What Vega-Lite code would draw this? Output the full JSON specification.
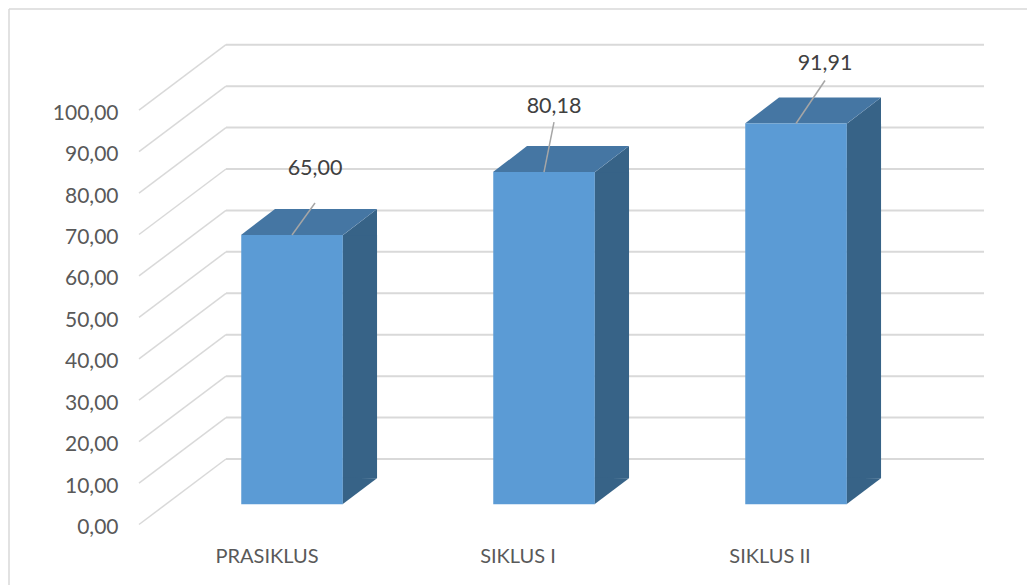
{
"$schema":"https://vega.github.io/schema/vega-lite/v6.json",
"width":1027,"height":585,"padding":0,"autosize":{"type":"none"},
"background":"white",
"config":{"view":{"stroke":null},"text":{"font":"Lato"}},
"datasets":{
"bars":[{"siklus":"PRASIKLUS","nilai":65.00,"teks":"65,00"},{"siklus":"SIKLUS I","nilai":80.18,"teks":"80,18"},{"siklus":"SIKLUS II","nilai":91.91,"teks":"91,91"}],
"ticks":[{"t":0},{"t":10},{"t":20},{"t":30},{"t":40},{"t":50},{"t":60},{"t":70},{"t":80},{"t":90},{"t":100}]
},
"resolve":{"scale":{"x":"independent"}},
"layer":[
{"data":{"values":[{"a":1}]},"mark":{"type":"rule","color":"#d9d9d9","strokeWidth":1.5},
 "encoding":{"x":{"datum":0,"type":"quantitative","scale":{"domain":[0,1],"range":[9,1027]},"axis":null},"x2":{"datum":1},
 "y":{"datum":124.4,"type":"quantitative","scale":{"domain":[-14.6,126.6],"nice":false,"zero":false},"axis":{"values":[0,10,20,30,40,50,60,70,80,90,100],"orient":"left","offset":-118,"domain":false,"ticks":false,"grid":false,"title":null,"labelPadding":0,"labelOffset":3,"labelFont":"Lato","labelFontSize":21,"labelColor":"#595959","labelAlign":"right","labelBaseline":"middle","labelOverlap":false,"labelExpr":"replace(format(datum.value,'.2f'),'.',',')"}}}},
{"data":{"values":[{"a":1}]},"mark":{"type":"rule","color":"#d9d9d9","strokeWidth":1.5},
 "encoding":{"x":{"datum":0,"type":"quantitative","scale":{"domain":[0,1],"range":[9,10]},"axis":null},
 "y":{"datum":124.4,"type":"quantitative"},"y2":{"datum":-14.6}}},
{"data":{"name":"ticks"},"mark":{"type":"rule","color":"#d9d9d9","strokeWidth":2,"yOffset":-65.5,"y2Offset":-65.5},
 "encoding":{"x":{"datum":0,"type":"quantitative","scale":{"domain":[0,1],"range":[226,984]},"axis":null},"x2":{"datum":1},
 "y":{"field":"t","type":"quantitative"}}},
{"data":{"name":"ticks"},"mark":{"type":"rule","color":"#d9d9d9","strokeWidth":1.5,"y2Offset":-65.5},
 "encoding":{"x":{"datum":0,"type":"quantitative","scale":{"domain":[0,1],"range":[139,226]},"axis":null},"x2":{"datum":1},
 "y":{"field":"t","type":"quantitative"},"y2":{"field":"t"}}},
{"data":{"name":"bars"},
 "encoding":{"x":{"field":"siklus","type":"nominal","scale":{"type":"band","domain":["PRASIKLUS","SIKLUS I","SIKLUS II"],"range":[166,922],"paddingInner":0,"paddingOuter":0},"axis":null}},
 "layer":[
  {"mark":{"type":"bar","color":"#376387","size":34.5,"xOffset":67.8,"yOffset":-20.2,"y2Offset":-46.2},
   "encoding":{"y":{"field":"nilai","type":"quantitative"},"y2":{"datum":0}}},
  {"mark":{"type":"point","filled":true,"opacity":1,"color":"#376387","size":4,"strokeWidth":0,"yOffset":-20.2,"shape":"M50.5,0.5L85,-26L85,0.5Z"},
   "encoding":{"y":{"field":"nilai","type":"quantitative"}}},
  {"mark":{"type":"point","filled":true,"opacity":1,"color":"#376387","size":4,"strokeWidth":0,"yOffset":-20.2,"shape":"M50.5,0L85,-26L50.5,-26.5Z"},
   "encoding":{"y":{"datum":0,"type":"quantitative"}}},
  {"mark":{"type":"point","filled":true,"opacity":1,"color":"#4576a3","size":4,"strokeWidth":0,"yOffset":-20.2,"shape":"M-51,0L-17,-26L85,-26L51,0Z"},
   "encoding":{"y":{"field":"nilai","type":"quantitative"}}},
  {"mark":{"type":"bar","color":"#5b9bd5","size":101.5,"yOffset":-20.2,"y2Offset":-20.2},
   "encoding":{"y":{"field":"nilai","type":"quantitative"},"y2":{"datum":0}}}
 ]},
{"data":{"name":"bars"},"transform":[{"filter":"datum.siklus=='PRASIKLUS'"}],
 "encoding":{"x":{"field":"siklus","type":"nominal","scale":{"type":"band","domain":["PRASIKLUS","SIKLUS I","SIKLUS II"],"range":[166,922],"paddingInner":0,"paddingOuter":0},"axis":null}},
 "layer":[
  {"mark":{"type":"rule","color":"#a6a6a6","strokeWidth":1.5,"yOffset":-20.2,"y2Offset":-52.2,"x2Offset":23},
   "encoding":{"x2":{"field":"siklus"},"y":{"field":"nilai","type":"quantitative"},"y2":{"field":"nilai"}}},
  {"mark":{"type":"text","fontSize":21.5,"color":"#404040","dx":23,"dy":-86},
   "encoding":{"y":{"field":"nilai","type":"quantitative"},"text":{"field":"teks"}}},
  {"mark":{"type":"text","fontSize":20,"color":"#595959","dx":-25,"dy":32},
   "encoding":{"y":{"datum":0,"type":"quantitative"},"text":{"field":"siklus"}}}
 ]},
{"data":{"name":"bars"},"transform":[{"filter":"datum.siklus=='SIKLUS I'"}],
 "encoding":{"x":{"field":"siklus","type":"nominal","scale":{"type":"band","domain":["PRASIKLUS","SIKLUS I","SIKLUS II"],"range":[166,922],"paddingInner":0,"paddingOuter":0},"axis":null}},
 "layer":[
  {"mark":{"type":"rule","color":"#a6a6a6","strokeWidth":1.5,"yOffset":-20.2,"y2Offset":-70.2,"x2Offset":10},
   "encoding":{"x2":{"field":"siklus"},"y":{"field":"nilai","type":"quantitative"},"y2":{"field":"nilai"}}},
  {"mark":{"type":"text","fontSize":21.5,"color":"#404040","dx":10,"dy":-85},
   "encoding":{"y":{"field":"nilai","type":"quantitative"},"text":{"field":"teks"}}},
  {"mark":{"type":"text","fontSize":20,"color":"#595959","dx":-26,"dy":32},
   "encoding":{"y":{"datum":0,"type":"quantitative"},"text":{"field":"siklus"}}}
 ]},
{"data":{"name":"bars"},"transform":[{"filter":"datum.siklus=='SIKLUS II'"}],
 "encoding":{"x":{"field":"siklus","type":"nominal","scale":{"type":"band","domain":["PRASIKLUS","SIKLUS I","SIKLUS II"],"range":[166,922],"paddingInner":0,"paddingOuter":0},"axis":null}},
 "layer":[
  {"mark":{"type":"rule","color":"#a6a6a6","strokeWidth":1.5,"yOffset":-20.2,"y2Offset":-63.2,"x2Offset":29},
   "encoding":{"x2":{"field":"siklus"},"y":{"field":"nilai","type":"quantitative"},"y2":{"field":"nilai"}}},
  {"mark":{"type":"text","fontSize":21.5,"color":"#404040","dx":29,"dy":-80},
   "encoding":{"y":{"field":"nilai","type":"quantitative"},"text":{"field":"teks"}}},
  {"mark":{"type":"text","fontSize":20,"color":"#595959","dx":-26,"dy":32},
   "encoding":{"y":{"datum":0,"type":"quantitative"},"text":{"field":"siklus"}}}
 ]}
]
}
